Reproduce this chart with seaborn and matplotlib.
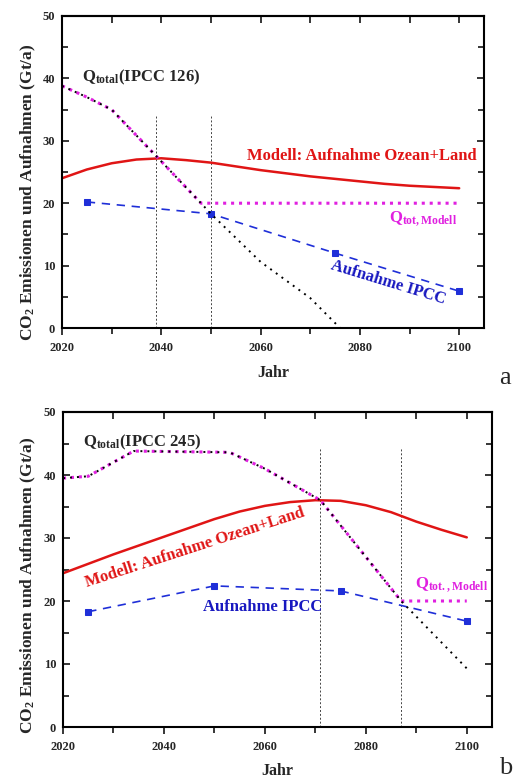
import matplotlib
matplotlib.use('Agg')
import matplotlib.pyplot as plt
from matplotlib.ticker import MultipleLocator, NullFormatter
import seaborn as sns

# ---- panel a (IPCC 126) ----
a_qtot_years = [2020, 2025, 2030, 2040, 2048, 2050, 2060, 2070, 2076]
a_qtot_vals = [38.8, 37.0, 35.0, 26.7, 20.0, 18.3, 10.6, 4.8, 0.0]
a_qmod_years = [2020, 2025, 2030, 2040, 2048, 2100]
a_qmod_vals = [38.8, 37.0, 35.0, 26.7, 20.0, 20.0]
a_model_years = [2020, 2025, 2030, 2035, 2040, 2045, 2050, 2055, 2060, 2065, 2070, 2075, 2080, 2085, 2090, 2095, 2100]
a_model_vals = [24.0, 25.4, 26.4, 27.0, 27.2, 26.9, 26.5, 25.9, 25.3, 24.8, 24.3, 23.9, 23.5, 23.1, 22.8, 22.6, 22.4]
a_ipcc_years = [2025, 2050, 2075, 2100]
a_ipcc_vals = [20.2, 18.3, 12.0, 5.9]
a_vlines = [2039, 2050]
a_vline_top = 34

# ---- panel b (IPCC 245) ----
b_qtot_years = [2020, 2025, 2034, 2053, 2060, 2071, 2080, 2087, 2100]
b_qtot_vals = [39.5, 39.8, 43.8, 43.6, 41.0, 36.0, 27.0, 20.0, 9.3]
b_qmod_years = [2020, 2025, 2034, 2053, 2060, 2071, 2080, 2087, 2100]
b_qmod_vals = [39.5, 39.8, 43.8, 43.6, 41.0, 36.0, 27.0, 20.0, 20.0]
b_model_years = [2020, 2025, 2030, 2035, 2040, 2045, 2050, 2055, 2060, 2065, 2070, 2075, 2080, 2085, 2090, 2095, 2100]
b_model_vals = [24.4, 25.9, 27.4, 28.8, 30.2, 31.6, 33.0, 34.2, 35.1, 35.7, 36.0, 35.9, 35.2, 34.1, 32.6, 31.3, 30.1]
b_ipcc_years = [2025, 2050, 2075, 2100]
b_ipcc_vals = [18.3, 22.4, 21.6, 16.8]
b_vlines = [2071, 2087]
b_vline_top = 44.3

RED = '#e01515'
BLUE = '#1f2fd8'
BLUE_TXT = '#1818c0'
MAG = '#e020e0'

sns.set_style('ticks')
plt.rcParams['font.family'] = ['Liberation Serif', 'DejaVu Serif']
plt.rcParams['font.weight'] = 'bold'
plt.rcParams['mathtext.fontset'] = 'custom'
plt.rcParams['mathtext.rm'] = 'Liberation Serif:bold'
plt.rcParams['mathtext.bf'] = 'Liberation Serif:bold'
plt.rcParams['mathtext.it'] = 'Liberation Serif:bold'

fig = plt.figure(figsize=(5.13, 7.80), dpi=100)
ax_a = fig.add_axes([62 / 513, 1 - 328 / 780, 422 / 513, 312 / 780])
ax_b = fig.add_axes([63 / 513, 1 - 727 / 780, 429 / 513, 315 / 780])


def draw_panel(ax, qtot_x, qtot_y, qmod_x, qmod_y, mod_x, mod_y, ipcc_x, ipcc_y, vl, vl_top):
    ax.vlines(vl, 0, vl_top, colors='#444444', linestyles=(0, (2, 2)), linewidth=0.7)
    sns.lineplot(x=mod_x, y=mod_y, ax=ax, color=RED, linewidth=1.8)
    sns.lineplot(x=ipcc_x, y=ipcc_y, ax=ax, color=BLUE, linewidth=1.2,
                 linestyle=(0, (5, 4)), marker='s', markersize=4,
                 markeredgecolor=BLUE)
    sns.lineplot(x=qmod_x, y=qmod_y, ax=ax, color=MAG, linewidth=2.2,
                 linestyle=(0, (1, 1.6)))
    sns.lineplot(x=qtot_x, y=qtot_y, ax=ax, color='black', linewidth=1.4,
                 linestyle=(0, (1, 2.6)))

    ax.set_xlim(2020, 2105)
    ax.set_ylim(0, 50)
    ax.xaxis.set_major_locator(MultipleLocator(20))
    ax.xaxis.set_minor_locator(MultipleLocator(10))
    ax.yaxis.set_major_locator(MultipleLocator(10))
    ax.yaxis.set_minor_locator(MultipleLocator(5))
    ax.tick_params(axis='x', which='both', direction='out', top=False,
                   labelsize=9, pad=5, width=1.3)
    ax.tick_params(axis='x', which='major', length=5)
    ax.tick_params(axis='x', which='minor', length=4)
    ax.tick_params(axis='y', which='both', direction='in', right=True,
                   labelsize=9, pad=5, width=1.3)
    ax.tick_params(axis='y', which='major', length=5)
    ax.tick_params(axis='y', which='minor', length=4)
    # top ticks point inward
    top = ax.secondary_xaxis('top')
    top.xaxis.set_major_locator(MultipleLocator(20))
    top.xaxis.set_minor_locator(MultipleLocator(10))
    top.xaxis.set_major_formatter(NullFormatter())
    top.tick_params(axis='x', which='both', direction='in', width=1.3, length=5)
    top.spines['top'].set_linewidth(1.5)
    for lab in ax.get_xticklabels() + ax.get_yticklabels():
        lab.set_fontweight('bold')
    for sp in ax.spines.values():
        sp.set_linewidth(1.5)
        sp.set_color('black')
    ax.set_xlabel('Jahr', fontsize=11.5, fontweight='bold')
    ax.set_ylabel(r'CO$_\mathbf{2}$ Emissionen und Aufnahmen (Gt/a)',
                  fontsize=12.5, fontweight='bold')


draw_panel(ax_a, a_qtot_years, a_qtot_vals, a_qmod_years, a_qmod_vals,
           a_model_years, a_model_vals, a_ipcc_years, a_ipcc_vals, a_vlines, a_vline_top)
draw_panel(ax_b, b_qtot_years, b_qtot_vals, b_qmod_years, b_qmod_vals,
           b_model_years, b_model_vals, b_ipcc_years, b_ipcc_vals, b_vlines, b_vline_top)

ax_a.xaxis.set_label_coords(0.5, -0.118)
ax_a.yaxis.set_label_coords(-0.057, 0.436)
ax_b.xaxis.set_label_coords(0.5, -0.113)
ax_b.yaxis.set_label_coords(-0.058, 0.45)

# annotations panel a
ax_a.text(2024, 40.2, r'Q$_\mathbf{total}$(IPCC 126)', fontsize=12,
          fontweight='bold', ha='left', va='center')
ax_a.text(2080.3, 27.6, 'Modell: Aufnahme Ozean+Land', fontsize=12,
          fontweight='bold', color=RED, ha='center', va='center')
ax_a.text(2085.9, 17.6, r'Q$_\mathbf{tot,Modell}$', fontsize=12,
          fontweight='bold', color=MAG, ha='left', va='center')
ax_a.text(2085.7, 7.2, 'Aufnahme IPCC', fontsize=12, fontweight='bold',
          color=BLUE_TXT, ha='center', va='center', rotation=-17,
          rotation_mode='anchor')

# annotations panel b
ax_b.text(2024, 45.2, r'Q$_\mathbf{total}$(IPCC 245)', fontsize=12,
          fontweight='bold', ha='left', va='center')
ax_b.text(2046.1, 28.4, 'Modell: Aufnahme Ozean+Land', fontsize=12,
          fontweight='bold', color=RED, ha='center', va='center',
          rotation=18, rotation_mode='anchor')
ax_b.text(2059.6, 19.0, 'Aufnahme IPCC', fontsize=12, fontweight='bold',
          color=BLUE_TXT, ha='center', va='center')
ax_b.text(2089.7, 22.6, r'Q$_\mathbf{tot.,Modell}$', fontsize=12,
          fontweight='bold', color=MAG, ha='left', va='center')

fig.text(505 / 513, 1 - 378 / 780, 'a', fontsize=19, fontweight='normal',
         ha='center', va='center')
fig.text(512 / 513, 1 - 768 / 780, 'b', fontsize=19, fontweight='normal',
         ha='right', va='center')

fig.savefig('out.png', dpi=100)
